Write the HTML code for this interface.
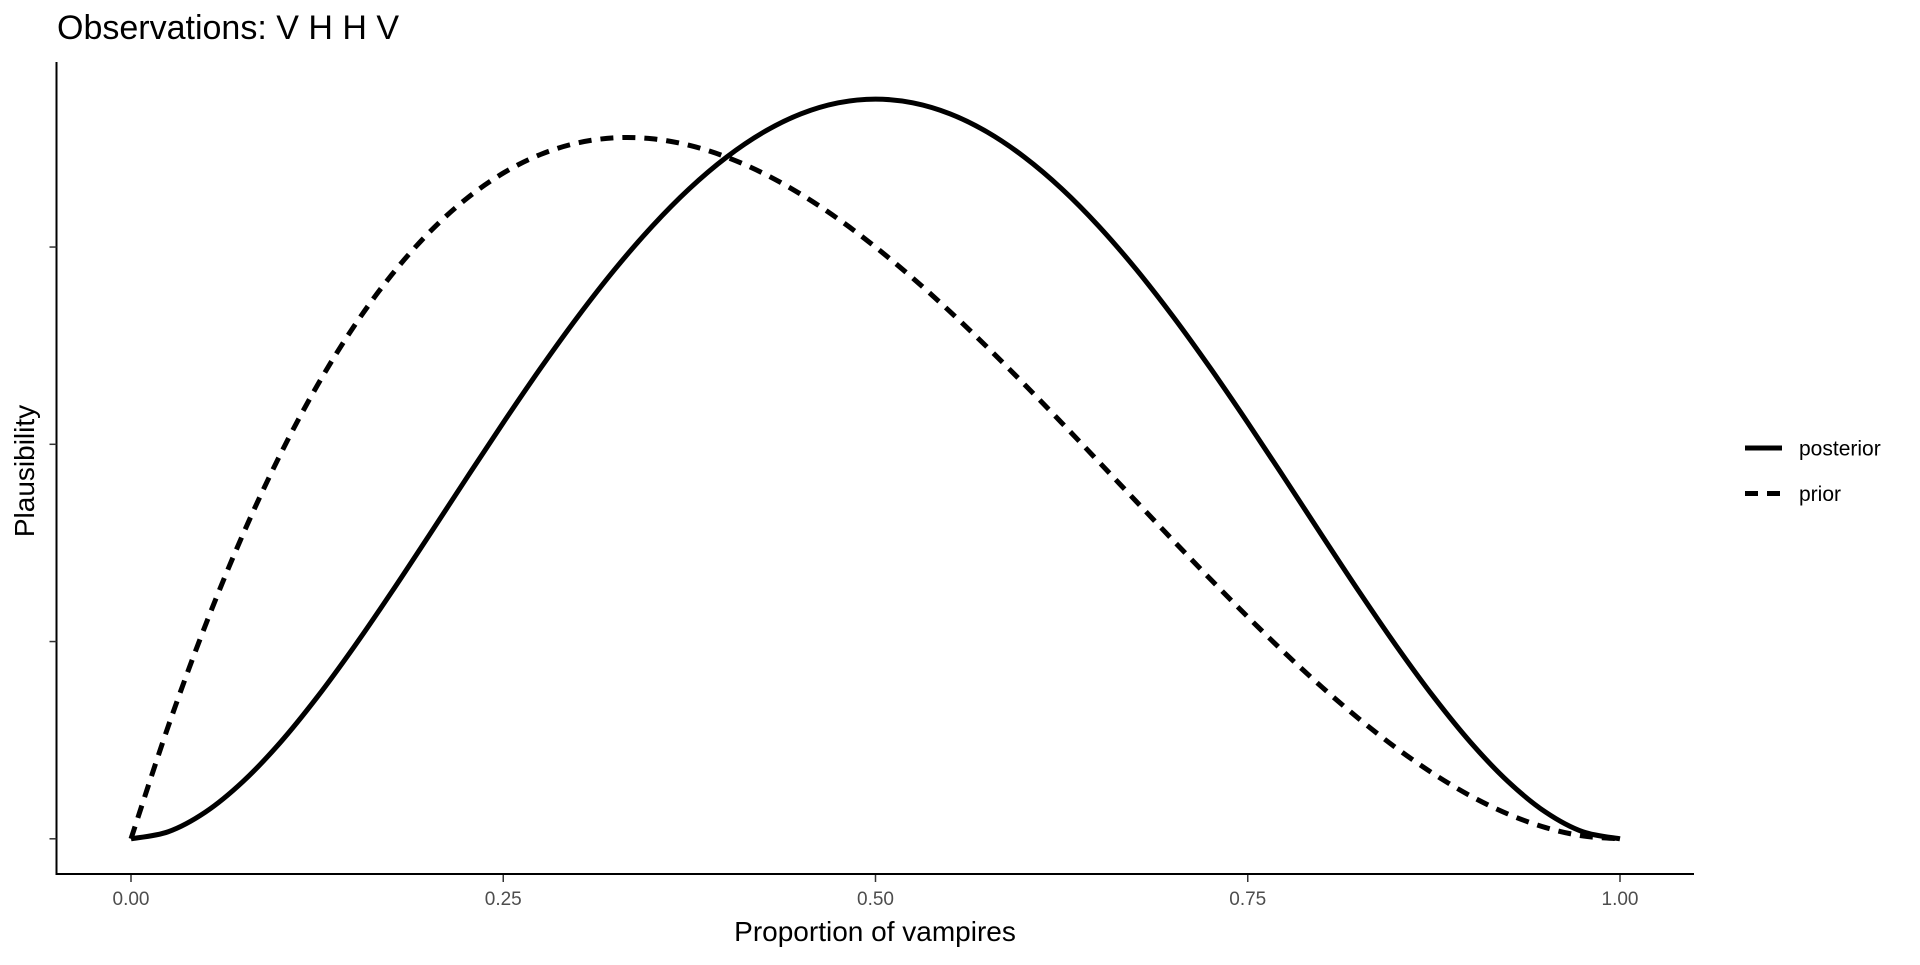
<!DOCTYPE html>
<html><head><meta charset="utf-8"><style>
html,body{margin:0;padding:0;background:#fff;}
svg text{font-family:"Liberation Sans",Arial,sans-serif;}
</style></head><body>
<svg id="chart" width="1920" height="960" viewBox="0 0 1920 960" xmlns="http://www.w3.org/2000/svg">
<text x="57" y="39" font-size="34" fill="#000">Observations: V H H V</text>
<g id="plot"></g>
<line x1="56.5" y1="62" x2="56.5" y2="875" stroke="#000" stroke-width="2"/>
<line x1="55.5" y1="874" x2="1694" y2="874" stroke="#000" stroke-width="2"/>
<g id="xticks"></g>
<g id="yticks"></g>
<text x="875" y="941" font-size="28" text-anchor="middle" fill="#000">Proportion of vampires</text>
<text transform="translate(34,471) rotate(-90)" font-size="28" text-anchor="middle" fill="#000">Plausibility</text>
<g>
<line x1="1745" y1="448" x2="1782" y2="448" stroke="#000" stroke-width="5"/>
<text x="1799" y="455.5" font-size="21" fill="#000">posterior</text>
<line x1="1745" y1="493.5" x2="1782" y2="493.5" stroke="#000" stroke-width="5" stroke-dasharray="13 9"/>
<text x="1799" y="501" font-size="21" fill="#000">prior</text>
</g>
</svg>
<script>
const xs = [0,0.025,0.05,0.075,0.1,0.125,0.15,0.175,0.2,0.225,0.25,0.275,0.3,0.325,0.35,0.375,0.4,0.425,0.45,0.475,0.5,0.525,0.55,0.575,0.6,0.625,0.65,0.675,0.7,0.725,0.75,0.775,0.8,0.825,0.85,0.875,0.9,0.925,0.95,0.975,1];
const posterior = [0,0.0178,0.0677,0.1444,0.243,0.3589,0.4877,0.6253,0.768,0.9122,1.0547,1.1925,1.323,1.4438,1.5527,1.648,1.728,1.7916,1.8377,1.8656,1.875,1.8656,1.8377,1.7916,1.728,1.648,1.5527,1.4438,1.323,1.1925,1.0547,0.9122,0.768,0.6253,0.4877,0.3589,0.243,0.1444,0.0677,0.0178,0];
const prior = [0,0.2852,0.5415,0.7701,0.972,1.1484,1.3005,1.4293,1.536,1.6217,1.6875,1.7346,1.764,1.7769,1.7745,1.7578,1.728,1.6862,1.6335,1.5711,1.5,1.4214,1.3365,1.2463,1.152,1.0547,0.9555,0.8556,0.756,0.6579,0.5625,0.4708,0.384,0.3032,0.2295,0.1641,0.108,0.0624,0.0285,0.0073,0];
const xTickVals = [0,0.25,0.5,0.75,1];
const xTickLabels = ["0.00","0.25","0.50","0.75","1.00"];
const yTickVals = [0,0.5,1,1.5];

const NS = "http://www.w3.org/2000/svg";
function sx(v){ return 131 + v*(1620-131); }
function sy(v){ return 838.8 - v*394.5; }
function smoothPath(xv, yv){
  const p = xv.map((x,i)=>[sx(x), sy(yv[i])]);
  let d = "M"+p[0][0]+","+p[0][1];
  for(let i=0;i<p.length-1;i++){
    const p0=p[Math.max(0,i-1)], p1=p[i], p2=p[i+1], p3=p[Math.min(p.length-1,i+2)];
    const c1x=p1[0]+(p2[0]-p0[0])/6, c1y=p1[1]+(p2[1]-p0[1])/6;
    const c2x=p2[0]-(p3[0]-p1[0])/6, c2y=p2[1]-(p3[1]-p1[1])/6;
    d += " C"+c1x+","+c1y+" "+c2x+","+c2y+" "+p2[0]+","+p2[1];
  }
  return d;
}
const plot = document.getElementById("plot");
const pri = document.createElementNS(NS,"path");


pri.setAttribute("d", smoothPath(xs, prior));
pri.setAttribute("fill","none"); pri.setAttribute("stroke","#000"); pri.setAttribute("stroke-width","5");
pri.setAttribute("stroke-dasharray","13 9");
plot.appendChild(pri);
const post = document.createElementNS(NS,"path");


post.setAttribute("d", smoothPath(xs, posterior));
post.setAttribute("fill","none"); post.setAttribute("stroke","#000"); post.setAttribute("stroke-width","5");
plot.appendChild(post);

const xt = document.getElementById("xticks");
xTickVals.forEach((v,i)=>{
  const l = document.createElementNS(NS,"line");
  
  
  l.setAttribute("x1",sx(v)); l.setAttribute("x2",sx(v));
  l.setAttribute("y1",875); l.setAttribute("y2",882);
  l.setAttribute("stroke","#333"); l.setAttribute("stroke-width","1.5");
  xt.appendChild(l);
  const t = document.createElementNS(NS,"text");
  
  
  t.setAttribute("x",sx(v)); t.setAttribute("y",905);
  t.setAttribute("font-size","19"); t.setAttribute("text-anchor","middle"); t.setAttribute("fill","#4d4d4d");
  t.textContent = xTickLabels[i];
  xt.appendChild(t);
});
const yt = document.getElementById("yticks");
yTickVals.forEach(v=>{
  const l = document.createElementNS(NS,"line");
  
  
  l.setAttribute("x1",49.5); l.setAttribute("x2",56.5);
  l.setAttribute("y1",sy(v)); l.setAttribute("y2",sy(v));
  l.setAttribute("stroke","#333"); l.setAttribute("stroke-width","1.5");
  yt.appendChild(l);
});
</script>
</body></html>
